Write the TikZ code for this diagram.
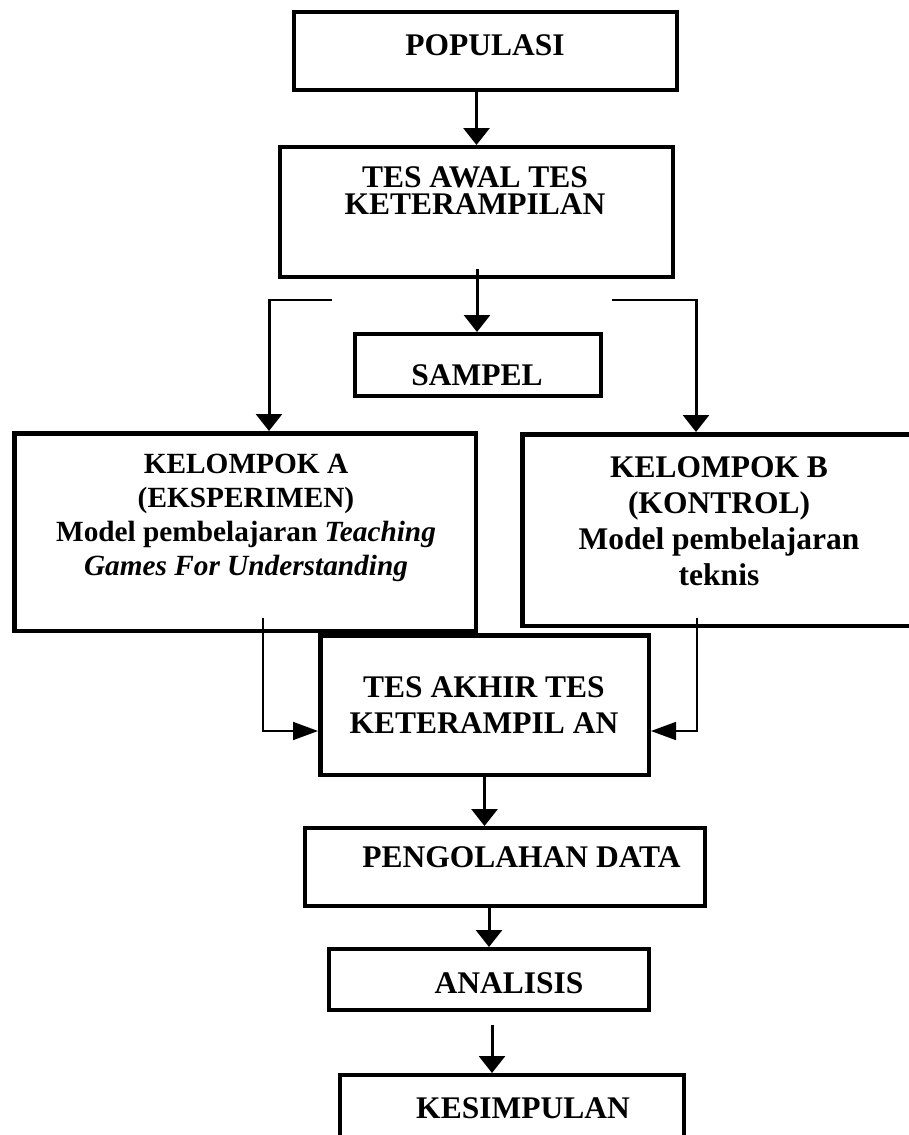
\documentclass[tikz,border=0pt]{standalone}
\usepackage{fontspec}
\setmainfont{Liberation Serif}
\usetikzlibrary{arrows.meta}
\newcommand{\mlines}[1]{\vtop{\lineskiplimit=-100pt\relax\lineskip=0pt\relax\halign{\hfil##\hfil\cr#1\crcr}}}
\begin{document}
\begin{tikzpicture}[x=1pt,y=-1pt,
  box/.style={draw, line width=4pt, inner sep=0pt, outer sep=2pt},
  bigbox/.style={draw, line width=4.5pt, inner sep=0pt, outer sep=2.25pt},
  lbl/.style={anchor=base, inner sep=0pt, font=\fontsize{31.5}{#1}\selectfont\bfseries},
  lbl/.default=36,
  arr/.style={line width=3pt, -{Triangle[width=26pt,length=17pt]}},
  sarr/.style={line width=1.7pt, -{Triangle[width=18pt,length=25pt]}},
  thinl/.style={line width=1.8pt}]
\useasboundingbox (0,0) rectangle (908,1135);

% boxes
\node[box, minimum width=383pt, minimum height=78pt] (pop) at (485.5,51) {};
\node[box, minimum width=393pt, minimum height=130pt] (aw) at (476.5,212) {};
\node[box, minimum width=246pt, minimum height=62pt] (sam) at (478,365) {};
\node[bigbox, minimum width=461.5pt, minimum height=197.5pt] (ka) at (245,532) {};
\node[bigbox, minimum width=400pt, minimum height=191.5pt] (kb) at (722.25,530) {};
\node[bigbox, minimum width=328.5pt, minimum height=139.5pt] (akh) at (484.5,705) {};
\node[box, minimum width=400pt, minimum height=78pt] (peng) at (505,867) {};
\node[box, minimum width=320pt, minimum height=61pt] (ana) at (489,979.5) {};
\node[box, minimum width=344pt, minimum height=90pt] (kes) at (512,1120) {};

% texts
\node[lbl] (popT) at (485,55) {POPULASI};
\node[lbl=27] (awT) at (475,187) {\mlines{TES AWAL TES\cr KETERAMPILAN}};
\node[lbl] (samT) at (477,385) {SAMPEL};
\node[anchor=base, inner sep=0pt, font=\fontsize{29.3}{34}\selectfont\bfseries] (kaT) at (246,473)
  {\mlines{KELOMPOK A\cr (EKSPERIMEN)\cr Model pembelajaran \textit{Teaching}\cr \textit{Games For Understanding}}};
\node[lbl=36.3] (kbT) at (719,477) {\mlines{KELOMPOK B\cr (KONTROL)\cr Model pembelajaran\cr teknis}};
\node[lbl=36] (akhT) at (484,697) {\mlines{TES AKHIR TES\cr KETERAMPIL AN}};
\node[lbl] (pengT) at (521.5,867) {PENGOLAHAN DATA};
\node[lbl] (anaT) at (509,993) {ANALISIS};
\node[lbl] (kesT) at (523,1118) {KESIMPULAN};

% connectors
\draw[arr] (pop.south -| aw.north) -- (aw.north);
\coordinate (a2) at (477,269);
\draw[arr] (a2) -- (a2 |- sam.north);

\coordinate (bl) at (332,300);
\coordinate (blc) at (269,300);
\draw[thinl] (bl) -- ([xshift=-1.5pt]blc);
\draw[arr] (blc) -- (blc |- ka.north);
\coordinate (br) at (612,300);
\coordinate (brc) at (696,300);
\draw[thinl] (br) -- ([xshift=1.5pt]brc);
\draw[arr] (brc) -- (brc |- kb.north);

\coordinate (la) at (263,618);
\draw[sarr] (la) |- ([yshift=-26pt]akh.west);
\coordinate (ra) at (697,618);
\draw[sarr] (ra) |- ([yshift=-26pt]akh.east);

\draw[arr] (akh.south) -- (akh.south |- peng.north);
\draw[arr] (ana.north |- peng.south) -- (ana.north);
\coordinate (a5) at (492,1025);
\draw[arr] (a5) -- (a5 |- kes.north);
\end{tikzpicture}
\end{document}
